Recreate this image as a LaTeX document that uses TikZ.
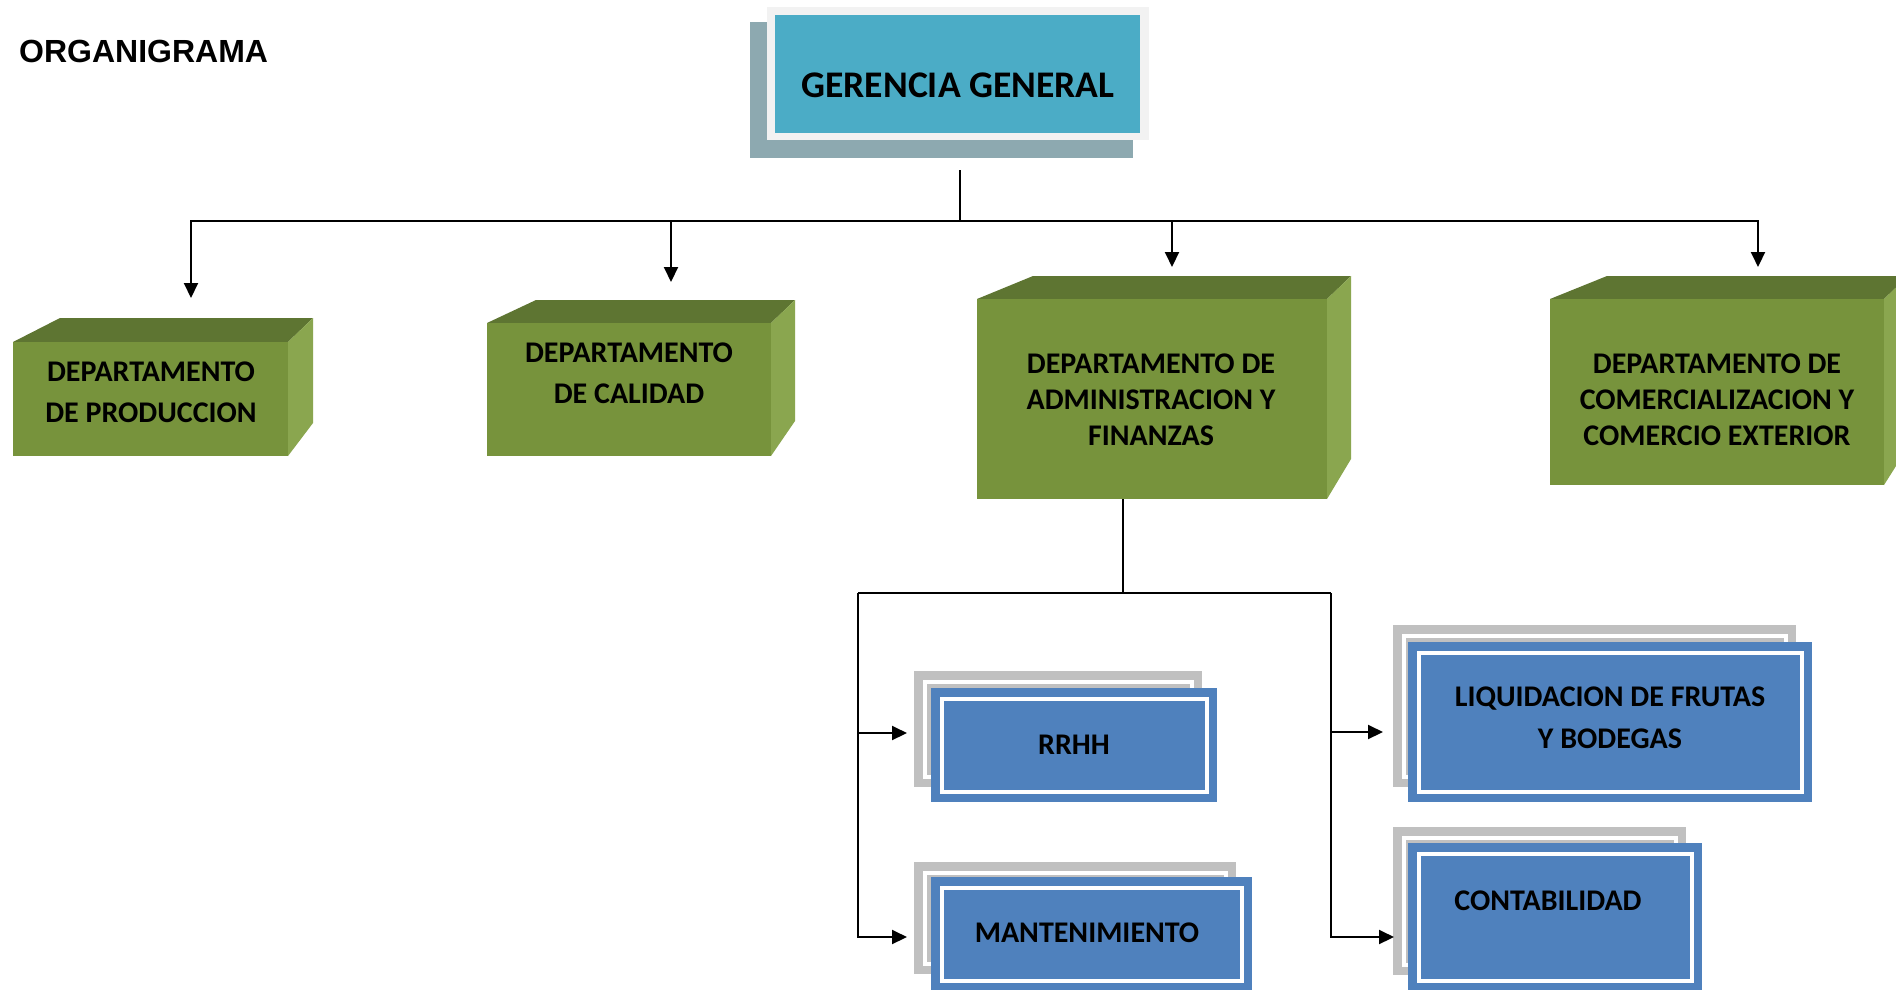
\documentclass[tikz,border=0pt]{standalone}
\usepackage{fontspec}
\setmainfont{Carlito}
\newfontfamily\arialfont{Liberation Sans}
\usetikzlibrary{arrows.meta}
\definecolor{ggteal}{HTML}{4BACC6}
\definecolor{ggframe}{HTML}{F2F2F2}
\definecolor{ggshadow}{HTML}{8DA9B0}
\definecolor{gfrontc}{HTML}{77933C}
\definecolor{gtopc}{HTML}{5E7532}
\definecolor{gsidec}{HTML}{8AA64F}
\definecolor{bblue}{HTML}{4F81BD}
\definecolor{bgray}{HTML}{C0C0C0}
\newcommand\gcube[8]{%
  \fill[gtopc] (#1,#2) -- (#5,#7) -- (#6,#7) -- (#3,#2) -- cycle;
  \fill[gsidec] (#3,#2) -- (#6,#7) -- (#6,#8) -- (#3,#4) -- cycle;
  \fill[gfrontc] (#1,#2) rectangle (#3,#4);}
\newcommand\dblbox[5]{%
  \fill[#1] (#2,#3) rectangle (#4,#5);
  \draw[white, line width=4] ({#2+10.5},{#3+10.5}) rectangle ({#4-10.5},{#5-10.5});}
\tikzset{
  txt/.style={inner sep=0, align=center, text=black},
  gtxt/.style={txt, font=\bfseries\fontsize{30}{41}\selectfont},
  gtxtb/.style={txt, font=\bfseries\fontsize{30}{36}\selectfont},
  btxt/.style={txt, font=\bfseries\fontsize{30}{42}\selectfont},
  conn/.style={draw=black, line width=2},
  arr/.style={conn, -{Triangle[length=15pt,width=14pt]}},
}
\begin{document}
\begin{tikzpicture}[x=1pt,y=-1pt]
\clip (0,0) rectangle (1896,989);
\fill[white] (0,0) rectangle (1896,989);

% title
\node[txt, anchor=west, font=\arialfont\bfseries\fontsize{32}{38}\selectfont] (title) at (19,51) {ORGANIGRAMA};

% Gerencia general
\fill[ggshadow] (750,22) rectangle (1133,158);
\fill[ggframe] (767,7) rectangle (1149,140);
\fill[ggteal] (775,15) rectangle (1140,133);
\node[txt, font=\bfseries\fontsize{37.6}{44}\selectfont] (gg) at (958,85) {GERENCIA GENERAL};

% green departments
\gcube{13}{342}{288}{456}{60}{313}{318}{423}
\gcube{487}{323}{771}{456}{536}{795}{300}{421}
\gcube{977}{299}{1327}{499}{1033}{1351}{276}{459}
\gcube{1550}{299}{1884}{485}{1607}{1908}{276}{447}
\node[gtxt] (prod) at (151,392.5) {DEPARTAMENTO\\DE PRODUCCION};
\node[gtxt] (cal) at (629,373.5) {DEPARTAMENTO\\DE CALIDAD};
\node[gtxtb] (adm) at (1151,399.5) {DEPARTAMENTO DE\\ADMINISTRACION Y\\FINANZAS};
\node[gtxtb] (com) at (1717,399.5) {DEPARTAMENTO DE\\COMERCIALIZACION Y\\COMERCIO EXTERIOR};

% blue sub-units
\dblbox{bgray}{914}{671}{1202}{787}
\dblbox{bblue}{931}{688}{1217}{802}
\dblbox{bgray}{914}{862}{1236}{974}
\dblbox{bblue}{931}{877}{1252}{991}
\dblbox{bgray}{1393}{625}{1796}{787}
\dblbox{bblue}{1408}{642}{1812}{802}
\dblbox{bgray}{1393}{827}{1686}{975}
\dblbox{bblue}{1408}{843}{1702}{991}
\node[btxt] (rrhh) at (1074,745) {RRHH};
\node[btxt] (mant) at (1087,933) {MANTENIMIENTO};
\node[btxt] (liq) at (1610,718) {LIQUIDACION DE FRUTAS\\Y BODEGAS};
\node[btxt] (cont) at (1548,901) {CONTABILIDAD};

% connectors (top level)
\coordinate (gbot) at (960,170);
\coordinate (jtop) at (960,221);
\coordinate (tprod) at (191,298);
\coordinate (tcal) at (671,282);
\coordinate (tadm) at (1172,267);
\coordinate (tcom) at (1758,267);
\draw[conn, line width=1.5] (gbot) -- (jtop);
\draw[arr] (jtop) -| (tprod);
\draw[arr] (jtop) -| (tcal);
\draw[arr] (jtop) -| (tadm);
\draw[arr] (jtop) -| (tcom);

% connectors (administration)
\coordinate (abot) at (1123,499);
\coordinate (ja) at (1123,593);
\coordinate (cl) at (858,593);
\coordinate (cr) at (1331,593);
\coordinate (trrhh) at (907,733);
\coordinate (tmant) at (907,937);
\coordinate (tliq) at (1383,732);
\coordinate (tcont) at (1394,937);
\draw[conn] (abot) -- (ja);
\draw[conn] (cl) -- (cr);
\draw[arr] (cl) |- (trrhh);
\draw[arr] (cl) |- (tmant);
\draw[arr] (cr) |- (tliq);
\draw[arr] (cr) |- (tcont);
\end{tikzpicture}
\end{document}
